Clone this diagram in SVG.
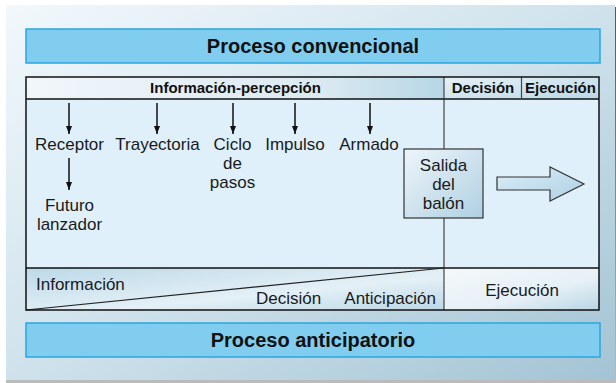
<svg xmlns="http://www.w3.org/2000/svg" width="616" height="383" viewBox="0 0 616 383">
<defs>
<linearGradient id="bg" x1="0" y1="0" x2="1" y2="1">
<stop offset="0" stop-color="#f2f8fc"/><stop offset="0.5" stop-color="#cfe2ec"/><stop offset="1" stop-color="#a3c3d4"/>
</linearGradient>
<linearGradient id="shadow" x1="0" y1="0" x2="0" y2="1">
<stop offset="0" stop-color="#555"/><stop offset="1" stop-color="#bbb"/>
</linearGradient>
<linearGradient id="hdr" x1="0" y1="0" x2="1" y2="0">
<stop offset="0" stop-color="#f1f6fa"/><stop offset="0.7" stop-color="#dbeaf2"/><stop offset="1" stop-color="#b6d6e6"/>
</linearGradient>
<linearGradient id="hdr2" x1="0" y1="0" x2="1" y2="1">
<stop offset="0" stop-color="#e6f1f7"/><stop offset="1" stop-color="#bad8e7"/>
</linearGradient>
<linearGradient id="bl" x1="0" y1="0" x2="1" y2="1">
<stop offset="0" stop-color="#bcd9e8"/><stop offset="0.6" stop-color="#e4f0f6"/><stop offset="1" stop-color="#bcd8e7"/>
</linearGradient>
<linearGradient id="br" x1="0" y1="0" x2="1" y2="1">
<stop offset="0" stop-color="#f4f8fb"/><stop offset="0.6" stop-color="#e6f0f6"/><stop offset="1" stop-color="#b9d6e5"/>
</linearGradient>
<linearGradient id="box" x1="0" y1="0" x2="1" y2="1">
<stop offset="0" stop-color="#eef5fa"/><stop offset="1" stop-color="#afd0e2"/>
</linearGradient>
<linearGradient id="arr" x1="0" y1="0" x2="1" y2="1">
<stop offset="0" stop-color="#dceef7"/><stop offset="1" stop-color="#aed0e3"/>
</linearGradient>
<marker id="ah" viewBox="0 0 8 6" refX="8" refY="3" markerWidth="8" markerHeight="6" markerUnits="userSpaceOnUse" orient="auto">
<path d="M0,0 L8,3 L0,6 Z" fill="#111"/>
</marker>
</defs>
<style>
.t{font-family:"Liberation Sans",Arial,sans-serif;font-size:17px;fill:#1a1a1a;text-anchor:middle}
.b{font-family:"Liberation Sans",Arial,sans-serif;font-weight:bold;font-size:15px;fill:#111;text-anchor:middle}
.title{font-family:"Liberation Sans",Arial,sans-serif;font-weight:bold;font-size:20px;fill:#111;text-anchor:middle}
.bar{fill:#80cdef;stroke:#2aa6de;stroke-width:1.5}
.ln{stroke:#111;stroke-width:1.5;fill:none}
.arrow{stroke:#111;stroke-width:1.5;fill:none;marker-end:url(#ah)}
</style>
<rect x="6" y="7" width="610" height="376" fill="url(#shadow)"/>
<rect x="6" y="5" width="609" height="375" fill="url(#bg)"/>

<g id="proceso-convencional">
<rect class="bar" x="26" y="29" width="574" height="34"/>
<text class="title" x="313" y="53">Proceso convencional</text>
</g>

<g id="tabla">
<rect x="26" y="77" width="418" height="22" fill="url(#hdr)"/>
<rect x="444" y="77" width="155" height="22" fill="url(#hdr2)"/>
<rect x="26" y="99" width="573" height="169" fill="#dff0fa"/>
<rect x="26" y="268" width="418" height="42" fill="url(#bl)"/>
<rect x="444" y="268" width="155" height="42" fill="url(#br)"/>
<line x1="444" y1="99" x2="444" y2="268" stroke="#444" stroke-width="1.2"/>
<line x1="26" y1="99" x2="599" y2="99" class="ln"/>
<line x1="26" y1="268" x2="599" y2="268" class="ln"/>
<line x1="444" y1="77" x2="444" y2="99" stroke="#444" stroke-width="1.2"/>
<line x1="521.5" y1="77" x2="521.5" y2="99" stroke="#444" stroke-width="1.2"/>
<line x1="444" y1="268" x2="444" y2="310" stroke="#444" stroke-width="1.2"/>
<line x1="26" y1="310" x2="444" y2="268" stroke="#222" stroke-width="1.2"/>
<rect x="26" y="77" width="573" height="233" class="ln"/>
<text class="b" x="235.5" y="93">Información-percepción</text>
<text class="b" x="483" y="93">Decisión</text>
<text class="b" x="560.5" y="93">Ejecución</text>
</g>

<g id="receptor"><text class="t" x="69.5" y="150">Receptor</text></g>
<g id="trayectoria"><text class="t" x="157.5" y="150">Trayectoria</text></g>
<g id="ciclo"><text class="t" x="232.5" y="150">Ciclo</text><text class="t" x="232.5" y="169">de</text><text class="t" x="232.5" y="188">pasos</text></g>
<g id="impulso"><text class="t" x="295" y="150">Impulso</text></g>
<g id="armado"><text class="t" x="369" y="150">Armado</text></g>
<g id="futuro"><text class="t" x="69.5" y="211">Futuro</text><text class="t" x="69.5" y="230">lanzador</text></g>

<g id="salida">
<rect x="404" y="149" width="79" height="69" fill="url(#box)" stroke="#333" stroke-width="1.2"/>
<text class="t" x="443.5" y="171">Salida</text>
<text class="t" x="443.5" y="190">del</text>
<text class="t" x="443.5" y="209">balón</text>
</g>

<g id="conectores">
<line class="arrow" x1="69" y1="103" x2="69" y2="134"/>
<line class="arrow" x1="157" y1="103" x2="157" y2="134"/>
<line class="arrow" x1="233" y1="103" x2="233" y2="134"/>
<line class="arrow" x1="295" y1="103" x2="295" y2="134"/>
<line class="arrow" x1="370" y1="103" x2="370" y2="134"/>
<line class="arrow" x1="69" y1="158" x2="69" y2="190"/>
<polygon points="497,177 550,177 550,167 584,184 550,201 550,190 497,190" fill="url(#arr)" stroke="#333" stroke-width="1.2"/>
</g>

<g id="fila-anticipacion">
<text class="t" x="36" y="290" style="text-anchor:start">Información</text>
<text class="t" x="256" y="304" style="text-anchor:start">Decisión</text>
<text class="t" x="436" y="304" style="text-anchor:end">Anticipación</text>
<text class="t" x="522" y="296">Ejecución</text>
</g>

<g id="proceso-anticipatorio">
<rect class="bar" x="26" y="323" width="574" height="34"/>
<text class="title" x="313" y="347">Proceso anticipatorio</text>
</g>
</svg>
